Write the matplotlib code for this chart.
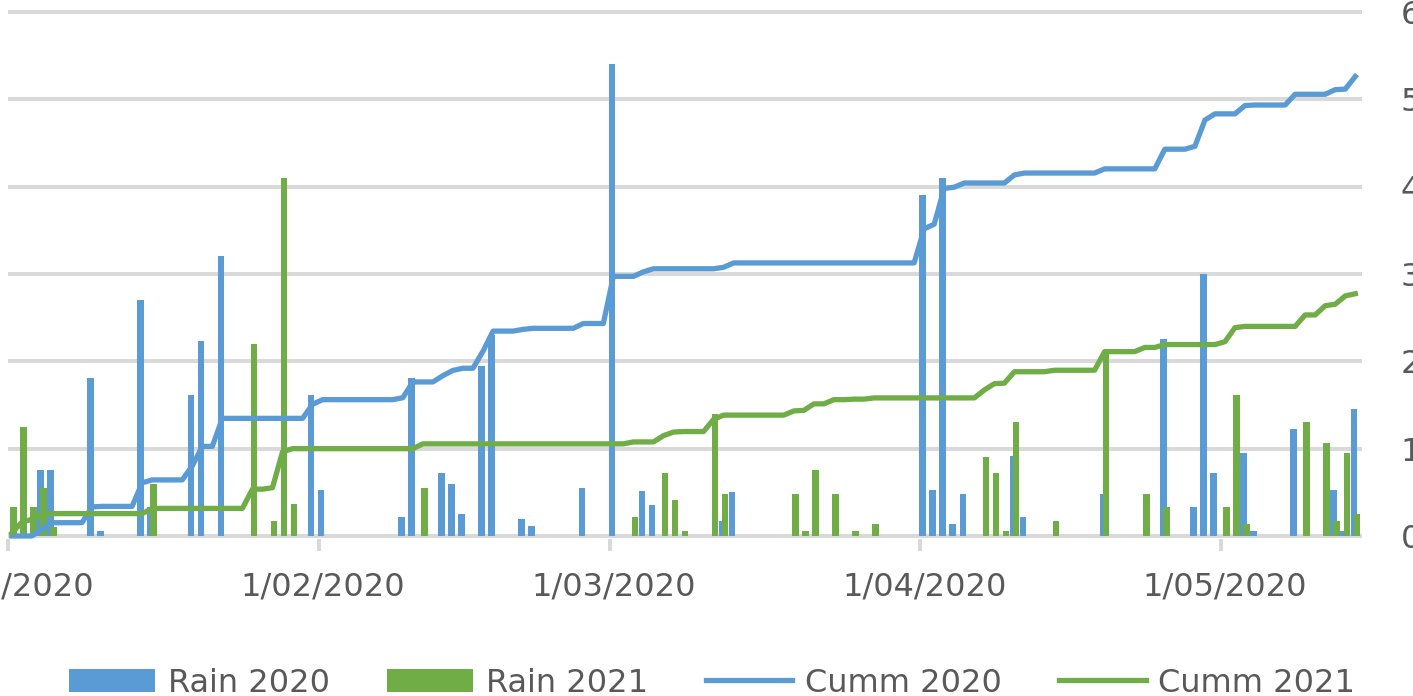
import numpy as np
import matplotlib
matplotlib.use("Agg")
import matplotlib.pyplot as plt

# day index 0 = 1 Jan 2020, daily rain in mm (days without an entry are 0)
ndays = 135
rain2020_days = [3, 4, 8, 9, 13, 14, 18, 19, 21, 30, 31, 39, 40, 43, 44, 45, 47, 48,
                 51, 52, 57, 60, 63, 64, 71, 72, 91, 92, 93, 94, 95, 100, 101, 109,
                 115, 118, 119, 120, 123, 124, 128, 132, 133, 134]
rain2020_mm = [7.6, 7.6, 18.1, 0.6, 27.0, 3.3, 16.1, 22.3, 32.1, 16.1, 5.3, 2.2, 18.1,
               7.2, 6.0, 2.5, 19.5, 23.0, 2.0, 1.2, 5.5, 54.0, 5.2, 3.5, 1.7, 5.0,
               39.0, 5.3, 41.0, 1.4, 4.8, 9.2, 2.2, 4.8, 22.5, 3.3, 30.0, 7.2, 9.5,
               0.6, 12.3, 5.3, 0.6, 14.5]
rain2021_days = [0, 1, 2, 3, 4, 14, 24, 26, 27, 28, 41, 62, 65, 66, 67, 70, 71, 78, 79,
                 80, 82, 84, 86, 97, 98, 99, 100, 104, 109, 113, 115, 121, 122, 123,
                 129, 131, 132, 133, 134]
rain2021_mm = [3.3, 12.5, 3.3, 5.5, 1.0, 6.0, 22.0, 1.7, 41.0, 3.7, 5.5, 2.2, 7.2, 4.1,
               0.6, 14.0, 4.8, 4.8, 0.6, 7.5, 4.8, 0.6, 1.4, 9.1, 7.2, 0.6, 13.1, 1.7,
               21.3, 4.8, 3.3, 3.3, 16.1, 1.4, 13.1, 10.6, 1.7, 9.5, 2.5]

tick_days = [0, 31, 60, 91, 121]
tick_labels = ["1/01/2020", "1/02/2020", "1/03/2020", "1/04/2020", "1/05/2020"]

rain2020 = np.zeros(ndays)
rain2020[rain2020_days] = rain2020_mm
rain2021 = np.zeros(ndays)
rain2021[rain2021_days] = rain2021_mm
cumm2020 = np.cumsum(rain2020)
cumm2021 = np.cumsum(rain2021)
days = np.arange(ndays)

blue = "#5B9BD5"
green = "#70AD47"
grey = "#D9D9D9"
txt = "#595959"

W, H = 1413, 696
fig = plt.figure(figsize=(W / 100, H / 100), dpi=100)
ax = fig.add_axes([8 / W, (H - 538.6) / H, 1354 / W, 529.2 / H])
ax2 = ax.twinx()

ax.bar(days + 0.23, rain2020, width=0.65, color=blue, zorder=2, label="Rain 2020")
ax.bar(days + 0.53, rain2021, width=0.65, color=green, zorder=3, label="Rain 2021")
ax2.plot(days + 0.38, cumm2020, color=blue, lw=3.8, solid_joinstyle="round", label="Cumm 2020")
ax2.plot(days + 0.38, cumm2021, color=green, lw=3.8, solid_joinstyle="round", label="Cumm 2021")

ax.set_xlim(0.4, 135.05)
ax.set_ylim(-0.3, 60.3)
ax2.set_ylim(-3, 603)

ax.set_yticks(np.arange(0, 61, 10))
ax.tick_params(axis="y", left=False, labelleft=False)
ax.yaxis.grid(True, color=grey, lw=2.9, zorder=0)
ax.set_axisbelow(True)

ax.set_xticks([d + 0.4 for d in tick_days])
ax.set_xticklabels(tick_labels)
ax.set_xticks(tick_days, minor=True)
ax.tick_params(axis="x", which="major", length=0, pad=24, labelsize=23, labelcolor=txt)
ax.tick_params(axis="x", which="minor", length=8.6, width=2.9, color=grey)

ax2.set_yticks(np.arange(0, 601, 100))
ax2.tick_params(axis="y", length=0, pad=28, labelsize=23, labelcolor=txt)

for a in (ax, ax2):
    for s in a.spines.values():
        s.set_visible(False)

h1, l1 = ax.get_legend_handles_labels()
h2, l2 = ax2.get_legend_handles_labels()
fig.legend(h1 + h2, l1 + l2, loc="center", bbox_to_anchor=(712 / W, 1 - 683 / H),
           ncol=4, frameon=False, fontsize=23, labelcolor=txt, handlelength=2.7,
           handletextpad=0.4, columnspacing=1.8)

fig.savefig("out.png", dpi=100)
